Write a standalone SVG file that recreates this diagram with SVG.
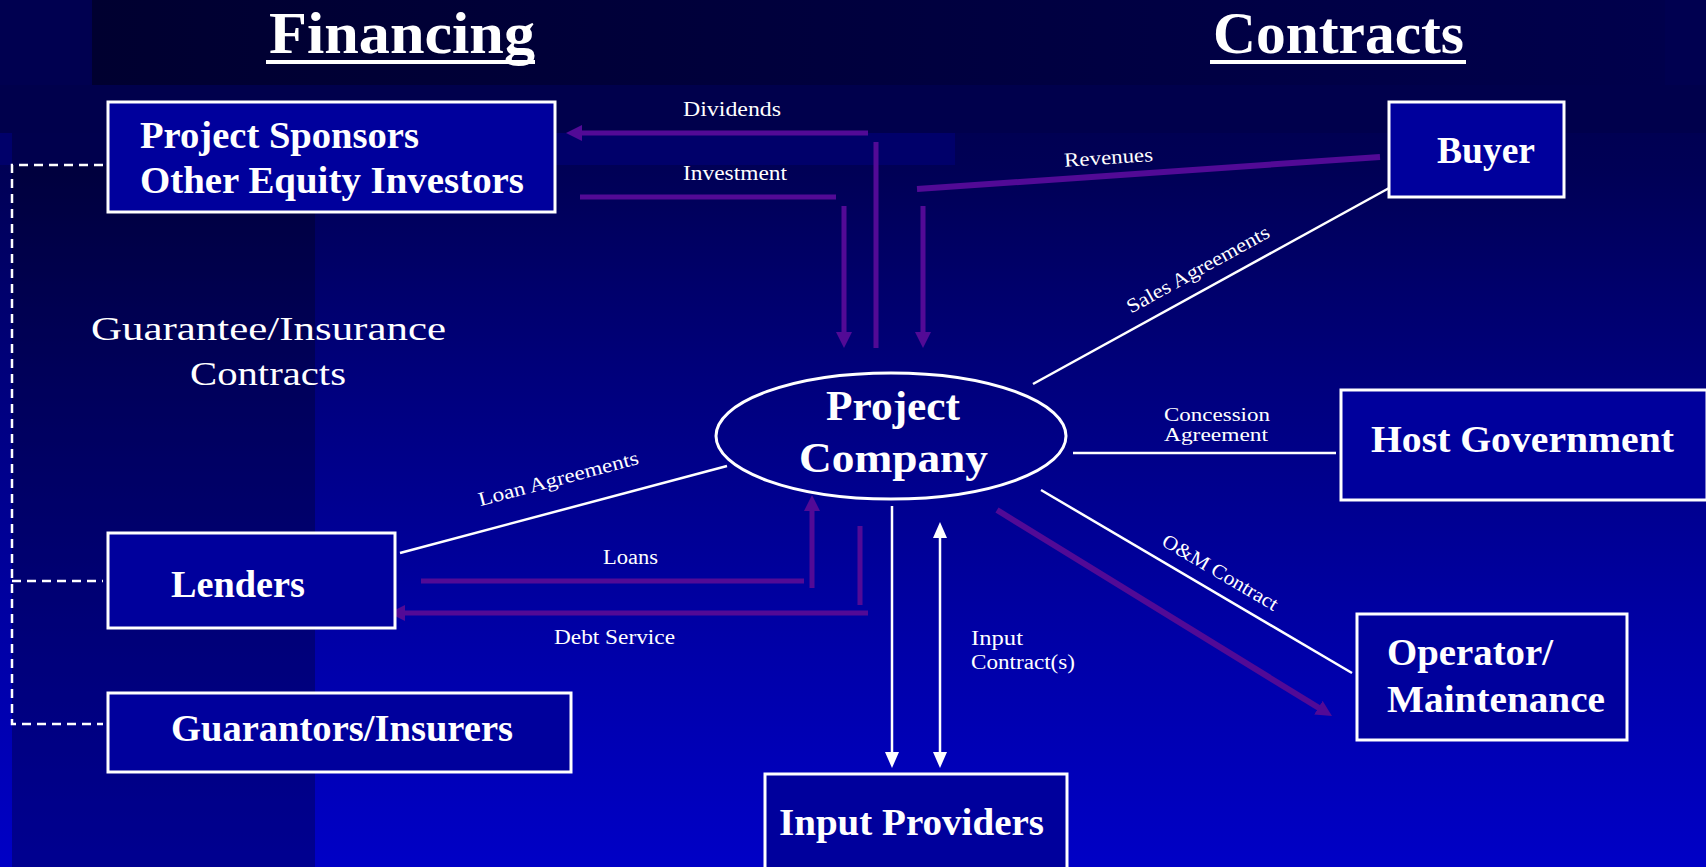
<svg xmlns="http://www.w3.org/2000/svg" width="1706" height="867" viewBox="0 0 1706 867">
  <defs>
    <linearGradient id="bg" x1="0" y1="0" x2="0" y2="1">
      <stop offset="0" stop-color="#000048"/>
      <stop offset="0.2" stop-color="#000056"/>
      <stop offset="0.45" stop-color="#00007e"/>
      <stop offset="0.75" stop-color="#0000a8"/>
      <stop offset="1" stop-color="#0000c6"/>
    </linearGradient>
    <linearGradient id="titleBand" x1="0" y1="0" x2="1" y2="0">
      <stop offset="0" stop-color="#000030"/>
      <stop offset="1" stop-color="#00004c"/>
    </linearGradient>
    <marker id="ap" markerUnits="userSpaceOnUse" markerWidth="18" markerHeight="16" refX="6" refY="8" orient="auto">
      <path d="M0,0 L16,8 L0,16 z" fill="#520a96"/>
    </marker>
    <marker id="aw" markerUnits="userSpaceOnUse" markerWidth="18" markerHeight="14" refX="6" refY="7" orient="auto-start-reverse">
      <path d="M0,0 L16,7 L0,14 z" fill="#ffffff"/>
    </marker>
  </defs>
  <style>
    .box{fill:#00009c;stroke:#ffffff;stroke-width:3}
    .pl{stroke:#520a96;stroke-width:5;fill:none}
    .wl{stroke:#ffffff;stroke-width:2.5;fill:none}
    .dash{stroke:#ffffff;stroke-width:2.5;fill:none;stroke-dasharray:9 6}
    .t{font-family:"Liberation Serif","Times New Roman",serif;fill:#ffffff}
    .title{font-size:60px;font-weight:bold}
    .nb{font-size:37px;font-weight:bold}
    .pc{font-size:42px;font-weight:bold}
    .note{font-size:34px}
    .lbl{font-size:20px}
    .sm{font-size:18px}
  </style>

  <!-- background -->
  <rect x="0" y="0" width="1706" height="867" fill="url(#bg)"/>
  <rect x="0" y="0" width="1706" height="85" fill="#000050"/>
  <rect x="92" y="0" width="1573" height="85" fill="url(#titleBand)"/>
  <rect x="0" y="85" width="1706" height="48" fill="#00004c"/>
  <rect x="0" y="133" width="955" height="32" fill="#00006a"/>
  <rect x="12" y="133" width="303" height="734" fill="#000000" opacity="0.27"/>

  <!-- headings -->
  <g id="heading-financing">
    <text class="t title" x="269" y="53" textLength="266" lengthAdjust="spacingAndGlyphs">Financing</text>
    <rect x="266" y="60" width="269" height="4" fill="#ffffff"/>
  </g>
  <g id="heading-contracts">
    <text class="t title" x="1213" y="53" textLength="251" lengthAdjust="spacingAndGlyphs">Contracts</text>
    <rect x="1210" y="60" width="256" height="4" fill="#ffffff"/>
  </g>

  <!-- connectors -->
  <g id="connectors">
    <!-- equity flows -->
    <line class="pl" x1="868" y1="133" x2="576" y2="133" marker-end="url(#ap)"/>
    <line class="pl" x1="580" y1="197" x2="836" y2="197"/>
    <line class="pl" x1="844" y1="206" x2="844" y2="338" marker-end="url(#ap)"/>
    <line class="pl" x1="876" y1="142" x2="876" y2="348"/>
    <line class="pl" x1="923" y1="206" x2="923" y2="338" marker-end="url(#ap)"/>
    <line class="pl" x1="917" y1="189" x2="1380" y2="157" style="stroke-width:6"/>
    <!-- debt flows -->
    <line class="pl" x1="421" y1="581" x2="804" y2="581"/>
    <line class="pl" x1="812" y1="588" x2="812" y2="505" marker-end="url(#ap)"/>
    <line class="pl" x1="860" y1="526" x2="860" y2="605"/>
    <line class="pl" x1="868" y1="613" x2="399" y2="613" marker-end="url(#ap)"/>
    <!-- operating payments -->
    <line class="pl" x1="997" y1="510" x2="1323.5" y2="710.8" style="stroke-width:6" marker-end="url(#ap)"/>
    <!-- contracts -->
    <line class="wl" x1="1033" y1="384" x2="1391" y2="187"/>
    <line class="wl" x1="400" y1="553" x2="727" y2="466"/>
    <line class="wl" x1="1073" y1="453" x2="1336" y2="453"/>
    <line class="wl" x1="1041" y1="490" x2="1352" y2="673"/>
    <line class="wl" x1="892" y1="506" x2="892" y2="758" marker-end="url(#aw)"/>
    <line class="wl" x1="940" y1="532" x2="940" y2="758" marker-start="url(#aw)" marker-end="url(#aw)"/>
    <!-- guarantee / insurance links -->
    <path class="dash" d="M103,165 H12 V724 H103"/>
    <path class="dash" d="M12,581 H103"/>
  </g>

  <!-- connector labels -->
  <g id="labels">
    <text class="t lbl" x="683" y="116" textLength="98" lengthAdjust="spacingAndGlyphs">Dividends</text>
    <text class="t lbl" x="683" y="180" textLength="104" lengthAdjust="spacingAndGlyphs">Investment</text>
    <text class="t lbl" text-anchor="middle" transform="translate(1109,164) rotate(-3.7)" textLength="89" lengthAdjust="spacingAndGlyphs">Revenues</text>
    <text class="t lbl" text-anchor="middle" transform="translate(1201,275) rotate(-28.9)" textLength="160" lengthAdjust="spacingAndGlyphs">Sales Agreements</text>
    <text class="t lbl" text-anchor="middle" transform="translate(560,485) rotate(-14.9)" textLength="165" lengthAdjust="spacingAndGlyphs">Loan Agreements</text>
    <text class="t lbl" x="603" y="564" textLength="55" lengthAdjust="spacingAndGlyphs">Loans</text>
    <text class="t lbl" x="554" y="644" textLength="121" lengthAdjust="spacingAndGlyphs">Debt Service</text>
    <text class="t sm" x="1164" y="421" textLength="106" lengthAdjust="spacingAndGlyphs">Concession</text>
    <text class="t sm" x="1164" y="441" textLength="104" lengthAdjust="spacingAndGlyphs">Agreement</text>
    <text class="t lbl" text-anchor="middle" transform="translate(1217,578) rotate(30.5)" textLength="131" lengthAdjust="spacingAndGlyphs">O&amp;M Contract</text>
    <text class="t lbl" x="971" y="645" textLength="52" lengthAdjust="spacingAndGlyphs">Input</text>
    <text class="t lbl" x="971" y="669" textLength="104" lengthAdjust="spacingAndGlyphs">Contract(s)</text>
    <text class="t note" x="91" y="340" textLength="355" lengthAdjust="spacingAndGlyphs">Guarantee/Insurance</text>
    <text class="t note" x="190" y="385" textLength="156" lengthAdjust="spacingAndGlyphs">Contracts</text>
  </g>

  <!-- nodes -->
  <g id="sponsors">
    <rect class="box" x="108" y="102" width="447" height="110"/>
    <text class="t nb" x="140" y="148" textLength="279" lengthAdjust="spacingAndGlyphs">Project Sponsors</text>
    <text class="t nb" x="140" y="193" textLength="384" lengthAdjust="spacingAndGlyphs">Other Equity Investors</text>
  </g>
  <g id="buyer">
    <rect class="box" x="1389" y="102" width="175" height="95"/>
    <text class="t nb" x="1437" y="163" textLength="98" lengthAdjust="spacingAndGlyphs">Buyer</text>
  </g>
  <g id="project-company">
    <ellipse cx="891" cy="436" rx="175" ry="63" fill="none" stroke="#ffffff" stroke-width="3"/>
    <text class="t pc" x="826" y="420" textLength="134" lengthAdjust="spacingAndGlyphs">Project</text>
    <text class="t pc" x="799" y="472" textLength="189" lengthAdjust="spacingAndGlyphs">Company</text>
  </g>
  <g id="host-government">
    <rect class="box" x="1341" y="390" width="366" height="110"/>
    <text class="t nb" x="1371" y="452" textLength="303" lengthAdjust="spacingAndGlyphs">Host Government</text>
  </g>
  <g id="lenders">
    <rect class="box" x="108" y="533" width="287" height="95"/>
    <text class="t nb" x="171" y="597" textLength="134" lengthAdjust="spacingAndGlyphs">Lenders</text>
  </g>
  <g id="guarantors">
    <rect class="box" x="108" y="693" width="463" height="79"/>
    <text class="t nb" x="171" y="741" textLength="342" lengthAdjust="spacingAndGlyphs">Guarantors/Insurers</text>
  </g>
  <g id="operator">
    <rect class="box" x="1357" y="614" width="270" height="126"/>
    <text class="t nb" x="1387" y="665" textLength="166" lengthAdjust="spacingAndGlyphs">Operator/</text>
    <text class="t nb" x="1387" y="712" textLength="218" lengthAdjust="spacingAndGlyphs">Maintenance</text>
  </g>
  <g id="input-providers">
    <rect class="box" x="765" y="774" width="302" height="100"/>
    <text class="t nb" x="779" y="835" textLength="265" lengthAdjust="spacingAndGlyphs">Input Providers</text>
  </g>
</svg>
